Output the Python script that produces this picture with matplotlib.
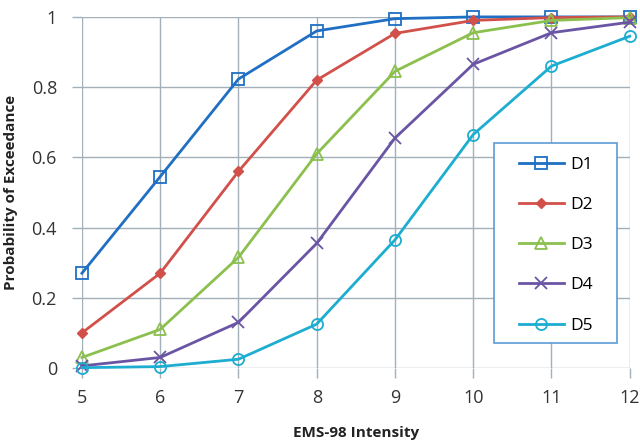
import matplotlib
matplotlib.use("Agg")
import matplotlib.pyplot as plt
from matplotlib.ticker import FuncFormatter
from matplotlib.patches import Rectangle

intensity = [5, 6, 7, 8, 9, 10, 11, 12]
d1 = [0.27, 0.545, 0.823, 0.96, 0.995, 1.0, 1.0, 1.0]
d2 = [0.10, 0.27, 0.56, 0.82, 0.953, 0.99, 0.998, 1.0]
d3 = [0.03, 0.11, 0.315, 0.61, 0.845, 0.955, 0.99, 0.998]
d4 = [0.006, 0.03, 0.13, 0.355, 0.655, 0.865, 0.955, 0.985]
d5 = [0.001, 0.004, 0.025, 0.125, 0.365, 0.665, 0.86, 0.945]
labels = ["D1", "D2", "D3", "D4", "D5"]

plt.rcParams['font.family'] = ['Open Sans', 'DejaVu Sans']

fig = plt.figure(figsize=(6.4, 4.45), dpi=100)
ax = fig.add_axes([0.128, 0.173, 0.856, 0.789])

styles = [
    dict(color="#1f6fc4", marker="s", mfc="none", ms=8, mew=1.3),
    dict(color="#d2504a", marker="D", mfc="#d2504a", ms=5, mew=1.0),
    dict(color="#8cc04e", marker="^", mfc="none", ms=8, mew=1.3),
    dict(color="#6a55a5", marker="x", mfc="none", ms=8, mew=1.3),
    dict(color="#1cadd0", marker="o", mfc="none", ms=8, mew=1.3),
]
for series, lab, st in zip([d1, d2, d3, d4, d5], labels, styles):
    ax.plot(intensity, series, label=lab, lw=2.0, clip_on=False, zorder=3, **st)

ax.set_xlim(5, 12)
ax.set_ylim(0, 1)
ax.set_xticks(intensity)
ax.set_yticks([0, 0.2, 0.4, 0.6, 0.8, 1.0])
ax.yaxis.set_major_formatter(FuncFormatter(lambda v, p: f"{v:g}"))
gc = "#a3b0b8"
ax.grid(True, color=gc, lw=1.0, zorder=0)
for s in ax.spines.values():
    s.set_visible(False)
ax.tick_params(axis='both', colors=gc, length=7, width=1.0, labelcolor="#333333", labelsize=13)
ax.tick_params(axis='x', pad=8)
ax.tick_params(axis='y', pad=11)

ax.set_xlabel("EMS-98 Intensity", fontsize=11, fontweight='bold', color="#222222", labelpad=14)
ax.set_ylabel("Probability of Exceedance", fontsize=11, fontweight='bold', color="#222222", labelpad=10)

# legend box
box = Rectangle((0.752, 0.071), 0.2245, 0.57, transform=ax.transAxes,
                facecolor="white", edgecolor="#5b9bd5", lw=1.2, zorder=4, clip_on=False)
ax.add_patch(box)
leg = ax.legend(loc='upper left', bbox_to_anchor=(0.797, 0.601), fontsize=12.5,
                labelspacing=1.38, handlelength=2.6, handletextpad=0.4,
                borderpad=0, borderaxespad=0, frameon=False)
leg.set_zorder(5)

fig.savefig("out.png", dpi=100)
